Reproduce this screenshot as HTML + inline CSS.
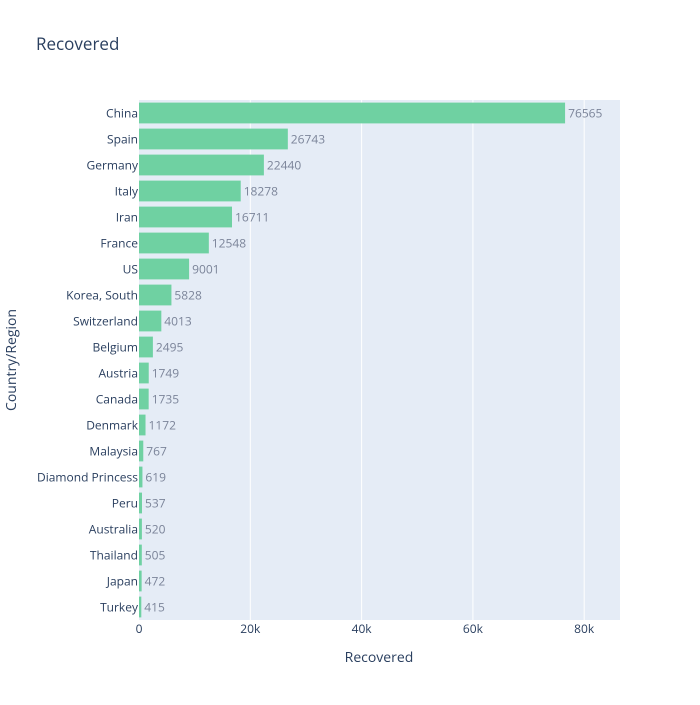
<!DOCTYPE html>
<html><head><meta charset="utf-8"><style>body{margin:0;background:#fff}</style></head><body>
<svg width="700" height="700" xmlns="http://www.w3.org/2000/svg" font-family="'Open Sans','Liberation Sans',sans-serif">
<rect width="700" height="700" fill="#fff"/>
<rect x="139" y="100" width="481" height="520" fill="#e5ecf6"/>
<g stroke="#fff" stroke-width="1">
<line x1="250.3" y1="100" x2="250.3" y2="620"/><line x1="361.6" y1="100" x2="361.6" y2="620"/><line x1="472.9" y1="100" x2="472.9" y2="620"/><line x1="584.2" y1="100" x2="584.2" y2="620"/>
</g>
<text x="36" y="50" font-size="17" fill="#2a3f5f">Recovered</text>
<g fill="#6fd1a2">
<rect x="139" y="102.6" width="426.08" height="20.8"/>
<rect x="139" y="128.6" width="148.83" height="20.8"/>
<rect x="139" y="154.6" width="124.88" height="20.8"/>
<rect x="139" y="180.6" width="101.72" height="20.8"/>
<rect x="139" y="206.6" width="93.00" height="20.8"/>
<rect x="139" y="232.6" width="69.83" height="20.8"/>
<rect x="139" y="258.6" width="50.09" height="20.8"/>
<rect x="139" y="284.6" width="32.43" height="20.8"/>
<rect x="139" y="310.6" width="22.33" height="20.8"/>
<rect x="139" y="336.6" width="13.88" height="20.8"/>
<rect x="139" y="362.6" width="9.73" height="20.8"/>
<rect x="139" y="388.6" width="9.66" height="20.8"/>
<rect x="139" y="414.6" width="6.52" height="20.8"/>
<rect x="139" y="440.6" width="4.27" height="20.8"/>
<rect x="139" y="466.6" width="3.44" height="20.8"/>
<rect x="139" y="492.6" width="2.99" height="20.8"/>
<rect x="139" y="518.6" width="2.89" height="20.8"/>
<rect x="139" y="544.6" width="2.81" height="20.8"/>
<rect x="139" y="570.6" width="2.63" height="20.8"/>
<rect x="139" y="596.6" width="2.31" height="20.8"/>
</g>
<g font-size="12" fill="#7b8499">
<text x="568.1" y="117.5">76565</text>
<text x="290.8" y="143.5">26743</text>
<text x="266.9" y="169.5">22440</text>
<text x="243.7" y="195.5">18278</text>
<text x="235.0" y="221.5">16711</text>
<text x="211.8" y="247.5">12548</text>
<text x="192.1" y="273.5">9001</text>
<text x="174.4" y="299.5">5828</text>
<text x="164.3" y="325.5">4013</text>
<text x="155.9" y="351.5">2495</text>
<text x="151.7" y="377.5">1749</text>
<text x="151.7" y="403.5">1735</text>
<text x="148.5" y="429.5">1172</text>
<text x="146.3" y="455.5">767</text>
<text x="145.4" y="481.5">619</text>
<text x="145.0" y="507.5">537</text>
<text x="144.9" y="533.5">520</text>
<text x="144.8" y="559.5">505</text>
<text x="144.6" y="585.5">472</text>
<text x="144.3" y="611.5">415</text>
</g>
<g font-size="12" fill="#2a3f5f" text-anchor="end">
<text x="138" y="117.5">China</text>
<text x="138" y="143.5">Spain</text>
<text x="138" y="169.5">Germany</text>
<text x="138" y="195.5">Italy</text>
<text x="138" y="221.5">Iran</text>
<text x="138" y="247.5">France</text>
<text x="138" y="273.5">US</text>
<text x="138" y="299.5">Korea, South</text>
<text x="138" y="325.5">Switzerland</text>
<text x="138" y="351.5">Belgium</text>
<text x="138" y="377.5">Austria</text>
<text x="138" y="403.5">Canada</text>
<text x="138" y="429.5">Denmark</text>
<text x="138" y="455.5">Malaysia</text>
<text x="138" y="481.5">Diamond Princess</text>
<text x="138" y="507.5">Peru</text>
<text x="138" y="533.5">Australia</text>
<text x="138" y="559.5">Thailand</text>
<text x="138" y="585.5">Japan</text>
<text x="138" y="611.5">Turkey</text>
</g>
<g font-size="12" fill="#2a3f5f" text-anchor="middle">
<text x="139" y="633">0</text><text x="250.3" y="633">20k</text><text x="361.6" y="633">40k</text><text x="472.9" y="633">60k</text><text x="584.2" y="633">80k</text>
</g>
<text x="379" y="662" font-size="14" fill="#2a3f5f" text-anchor="middle">Recovered</text>
<text transform="translate(16,360) rotate(-90)" font-size="14" fill="#2a3f5f" text-anchor="middle">Country/Region</text>
</svg>
</body></html>
